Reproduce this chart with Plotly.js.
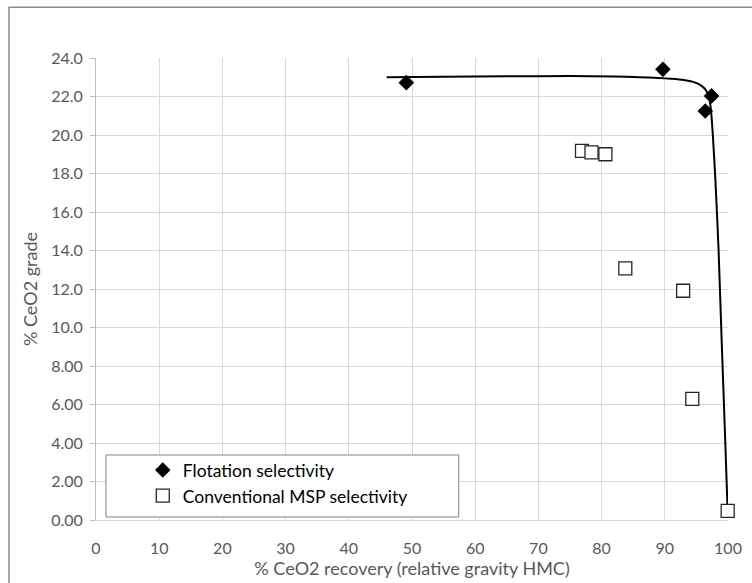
<!DOCTYPE html>
<html>
<head>
<meta charset="utf-8">
<script src="https://cdn.plot.ly/plotly-3.0.1.min.js"></script>
<style>
html,body{margin:0;padding:0;background:#fff;}
#chart{width:752px;height:583px;}
</style>
</head>
<body>
<div id="chart"></div>
<script>
// Flotation selectivity (filled diamonds)
var floX = [49.1, 89.7, 97.4, 96.4];
var floY = [22.72, 23.41, 22.03, 21.25];
// Conventional MSP selectivity (open squares)
var mspX = [76.9, 78.4, 80.6, 83.75, 92.9, 94.35, 99.95];
var mspY = [19.18, 19.10, 19.00, 13.07, 11.91, 6.29, 0.47];
// Trendline
var trendX = [46, 55, 65, 75, 82, 86, 89, 91, 93, 94.5, 95.6, 96.5, 97.0, 97.3, 97.6, 98.0, 98.5, 99.0, 99.5, 99.95];
var trendY = [23.0, 23.02, 23.05, 23.06, 23.04, 23.0, 22.96, 22.92, 22.86, 22.76, 22.6, 22.33, 21.95, 21.3, 20.0, 17.7, 14.1, 9.3, 4.7, 0.4];
// Axis ticks
var xTicks = [0, 10, 20, 30, 40, 50, 60, 70, 80, 90, 100];
var yTicks = [0, 2, 4, 6, 8, 10, 12, 14, 16, 18, 20, 22, 24];
var yTickText = ['0.00', '2.00', '4.00', '6.00', '8.00', '10.0', '12.0', '14.0', '16.0', '18.0', '20.0', '22.0', '24.0'];
var xTitle = '% CeO2 recovery (relative gravity HMC)';
var yTitle = '% CeO2 grade';
var seriesNames = ['Flotation selectivity', 'Conventional MSP selectivity'];

var FONT = 'Lato, Carlito, Calibri, sans-serif';
var GREY = '#595959';

var traces = [
  {
    x: trendX, y: trendY, type: 'scatter', mode: 'lines',
    line: {color: '#000000', width: 2, shape: 'spline', smoothing: 0.6},
    showlegend: false, hoverinfo: 'skip', cliponaxis: false
  },
  {
    x: floX, y: floY, type: 'scatter', mode: 'markers', name: seriesNames[0],
    marker: {symbol: 'diamond', size: 12, color: '#000000', line: {width: 0}},
    cliponaxis: false
  },
  {
    x: mspX, y: mspY, type: 'scatter', mode: 'markers', name: seriesNames[1],
    marker: {symbol: 'square', size: 13, color: '#ffffff', line: {color: '#262626', width: 1.3}},
    cliponaxis: false
  }
];

var layout = {
  width: 752, height: 583,
  margin: {l: 96, r: 24, t: 58, b: 63},
  paper_bgcolor: '#ffffff', plot_bgcolor: '#ffffff',
  font: {family: FONT, color: GREY, size: 16},
  showlegend: true,
  legend: {
    x: 0.074, y: 0.147, xanchor: 'left', yanchor: 'top',
    bgcolor: 'rgba(0,0,0,0)', borderwidth: 0,
    font: {family: FONT, size: 17.5, color: '#000000'},
    itemwidth: 30, tracegroupgap: 0
  },
  xaxis: {
    range: [0, 100], tickvals: xTicks, ticktext: xTicks.map(String),
    showgrid: true, gridcolor: '#d9d9d9', gridwidth: 1,
    showline: true, linecolor: '#d9d9d9', linewidth: 1,
    zeroline: false, ticks: '', ticklabelstandoff: 14,
    tickfont: {family: FONT, size: 16, color: GREY},
    title: {text: xTitle, font: {family: FONT, size: 18, color: GREY}, standoff: 3}
  },
  yaxis: {
    range: [0, 24], tickvals: yTicks, ticktext: yTickText,
    showgrid: true, gridcolor: '#d9d9d9', gridwidth: 1,
    showline: true, linecolor: '#bfbfbf', linewidth: 1,
    zeroline: false, ticks: 'outside', ticklen: 5, tickcolor: '#bfbfbf',
    ticklabelstandoff: 4,
    tickfont: {family: FONT, size: 16, color: GREY},
    title: {text: yTitle, font: {family: FONT, size: 18, color: GREY}, standoff: 8}
  },
  shapes: [
    {type: 'rect', xref: 'paper', yref: 'paper', x0: -0.1377, x1: 1.3, y0: -0.4, y1: 1.110,
     line: {color: '#8c8c8c', width: 1.5}, fillcolor: 'rgba(0,0,0,0)', layer: 'below'},
    {type: 'rect', xref: 'paper', yref: 'paper', x0: 0.0158, x1: 0.574, y0: 0.0065, y1: 0.1407,
     line: {color: '#7f7f7f', width: 1}, fillcolor: '#ffffff', layer: 'above'}
  ]
};

Plotly.newPlot('chart', traces, layout, {displayModeBar: false, staticPlot: true});
</script>
</body>
</html>
